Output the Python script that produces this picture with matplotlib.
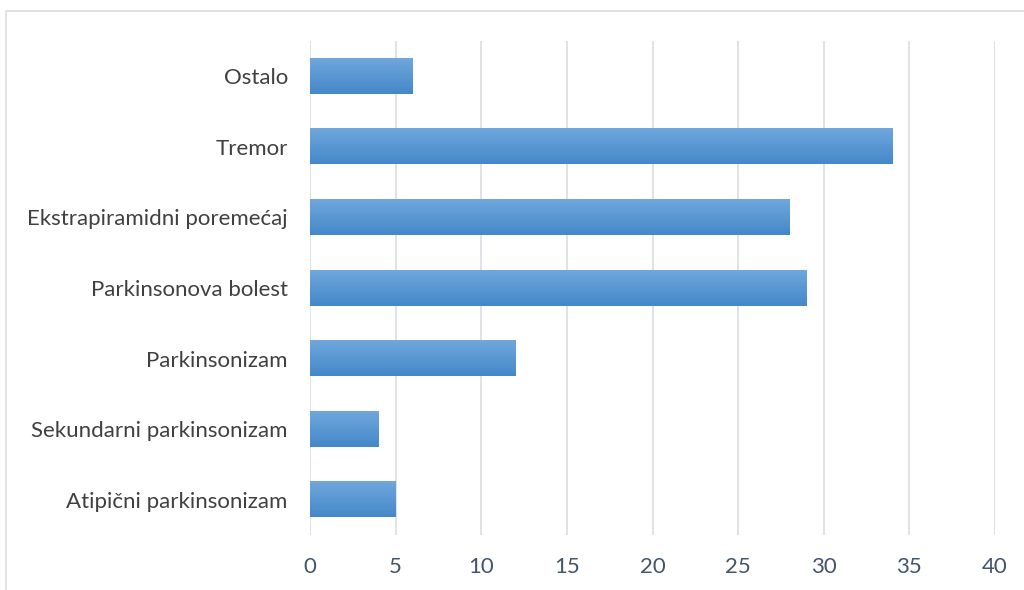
import matplotlib.pyplot as plt
import numpy as np
from matplotlib.patches import Rectangle

categories = ['Atipični parkinsonizam', 'Sekundarni parkinsonizam', 'Parkinsonizam',
              'Parkinsonova bolest', 'Ekstrapiramidni poremećaj', 'Tremor', 'Ostalo']
values = [5, 4, 12, 29, 28, 34, 6]
xticks = [0, 5, 10, 15, 20, 25, 30, 35, 40]

plt.rcParams['font.family'] = ['Lato', 'DejaVu Sans']

W, H = 1024, 590
fig = plt.figure(figsize=(W / 100, H / 100), dpi=100)
ax = fig.add_axes([310 / W, 1 - 535 / H, (995 - 310) / W, (535 - 41) / H])

# outer chart border
fig.patches.append(Rectangle((6 / W, -0.05), 1.1, 1 - 11 / H + 0.05, transform=fig.transFigure,
                             fill=False, edgecolor='#d9dde2', linewidth=1.2))

# gradient for the bars (light on top, darker at bottom)
top = np.array([112, 167, 220]) / 255
bot = np.array([68, 136, 201]) / 255
t = np.linspace(0, 1, 64)[:, None]
grad = (top * (1 - t) + bot * t)[:, None, :]

bh = 0.5
y = np.arange(len(categories))
for yi, v in zip(y, values):
    ax.imshow(grad, extent=(0, v, yi - bh / 2, yi + bh / 2), aspect='auto',
              interpolation='bilinear', zorder=3)

ax.set_xlim(0, 40)
ax.set_ylim(-0.5, len(categories) - 0.5)
ax.set_xticks(xticks)
ax.set_yticks(y)
ax.set_yticklabels(categories)
ax.grid(axis='x', color='#d9dde3', linewidth=1.2, zorder=0)
ax.set_axisbelow(True)
for s in ax.spines.values():
    s.set_visible(False)
ax.tick_params(axis='both', length=0, labelsize=16, colors='#44546a')
ax.tick_params(axis='y', labelcolor='#404040', pad=16)
ax.tick_params(axis='x', pad=16)

fig.savefig('out.png', dpi=100)
